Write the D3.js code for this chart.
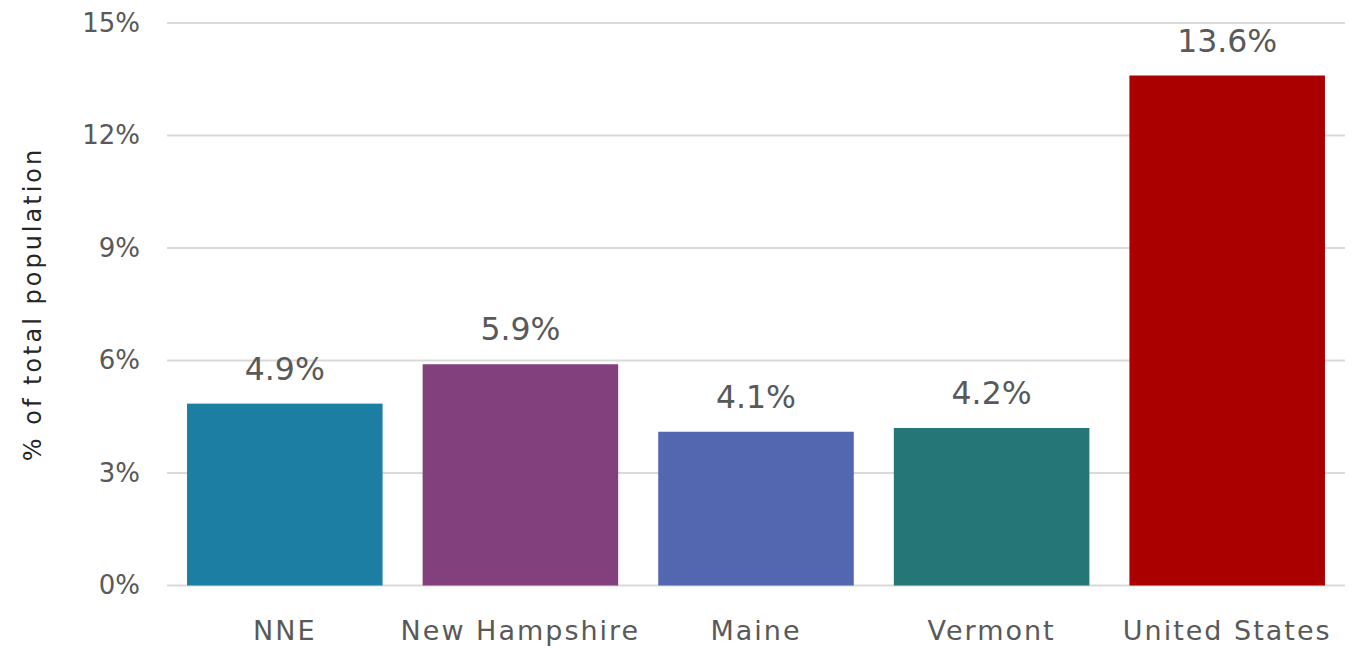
<!DOCTYPE html>
<html>
<head>
<meta charset="utf-8">
<script src="https://cdn.jsdelivr.net/npm/d3@7"></script>
<style>
  body { margin: 0; background: #fff; }
  text { font-family: "DejaVu Sans", Verdana, sans-serif; fill: #595959; }
</style>
</head>
<body>
<div id="chart-area"></div>
<script>
// Chart data
const regions = ["NNE", "New Hampshire", "Maine", "Vermont", "United States"];
const shares = [4.85, 5.9, 4.1, 4.2, 13.6];
const shareLabels = ["4.9%", "5.9%", "4.1%", "4.2%", "13.6%"];
const barColors = ["#1d7ea3", "#82417c", "#5267b0", "#257676", "#aa0000"];
const yTicks = [0, 3, 6, 9, 12, 15];

// SVG size
let width = 1357,
	height = 648;
const margin = { top: 23, right: 12, bottom: 62, left: 167 };

let svg = d3.select("#chart-area")
	.append("svg")
	.attr("width", width)
	.attr("height", height);

const x = d3.scaleBand()
	.domain(regions)
	.range([margin.left, width - margin.right])
	.paddingInner(0.17)
	.paddingOuter(0.085);

const y = d3.scaleLinear()
	.domain([0, 15])
	.range([height - margin.bottom - 0.5, margin.top]);

// Gridlines
svg.append("g")
	.selectAll("line")
	.data(yTicks)
	.enter()
	.append("line")
	.attr("x1", margin.left)
	.attr("x2", width - margin.right)
	.attr("y1", d => y(d))
	.attr("y2", d => y(d))
	.style("stroke", "#d9d9d9")
	.style("stroke-width", 2);

// Y axis labels
const yAxis = d3.axisLeft(y).tickValues(yTicks).tickFormat(d => d + "%").tickSize(0).tickPadding(27);
svg.append("g")
	.attr("class", "y-axis")
	.attr("transform", "translate(" + margin.left + ",0)")
	.call(yAxis)
	.call(g => g.select(".domain").remove())
	.selectAll("text")
	.style("font-size", "26px")
	.style("fill", "#595959");

// Bars
svg.selectAll("rect.bar")
	.data(regions)
	.enter()
	.append("rect")
	.attr("class", "bar")
	.attr("x", d => x(d))
	.attr("y", (d, i) => y(shares[i]))
	.attr("width", x.bandwidth())
	.attr("height", (d, i) => y(0) - y(shares[i]))
	.style("fill", (d, i) => barColors[i]);

// Value labels
svg.selectAll("text.value")
	.data(regions)
	.enter()
	.append("text")
	.attr("class", "value")
	.attr("text-anchor", "middle")
	.attr("x", d => x(d) + x.bandwidth() / 2)
	.attr("y", (d, i) => y(shares[i]) - 24)
	.style("font-size", "31.5px")
	.text((d, i) => shareLabels[i]);

// X axis labels
const xAxis = d3.axisBottom(x).tickSize(0).tickPadding(35);
svg.append("g")
	.attr("class", "x-axis")
	.attr("transform", "translate(0," + y(0) + ")")
	.call(xAxis)
	.call(g => g.select(".domain").remove())
	.selectAll("text")
	.style("font-size", "27px")
	.style("letter-spacing", "2px")
	.style("fill", "#595959");

// Y axis title
svg.append("text")
	.attr("text-anchor", "middle")
	.attr("transform", "rotate(-90)")
	.attr("x", -304)
	.attr("y", 41)
	.style("font-size", "24px")
	.style("letter-spacing", "3px")
	.style("fill", "#262626")
	.text("% of total population");
</script>
</body>
</html>
